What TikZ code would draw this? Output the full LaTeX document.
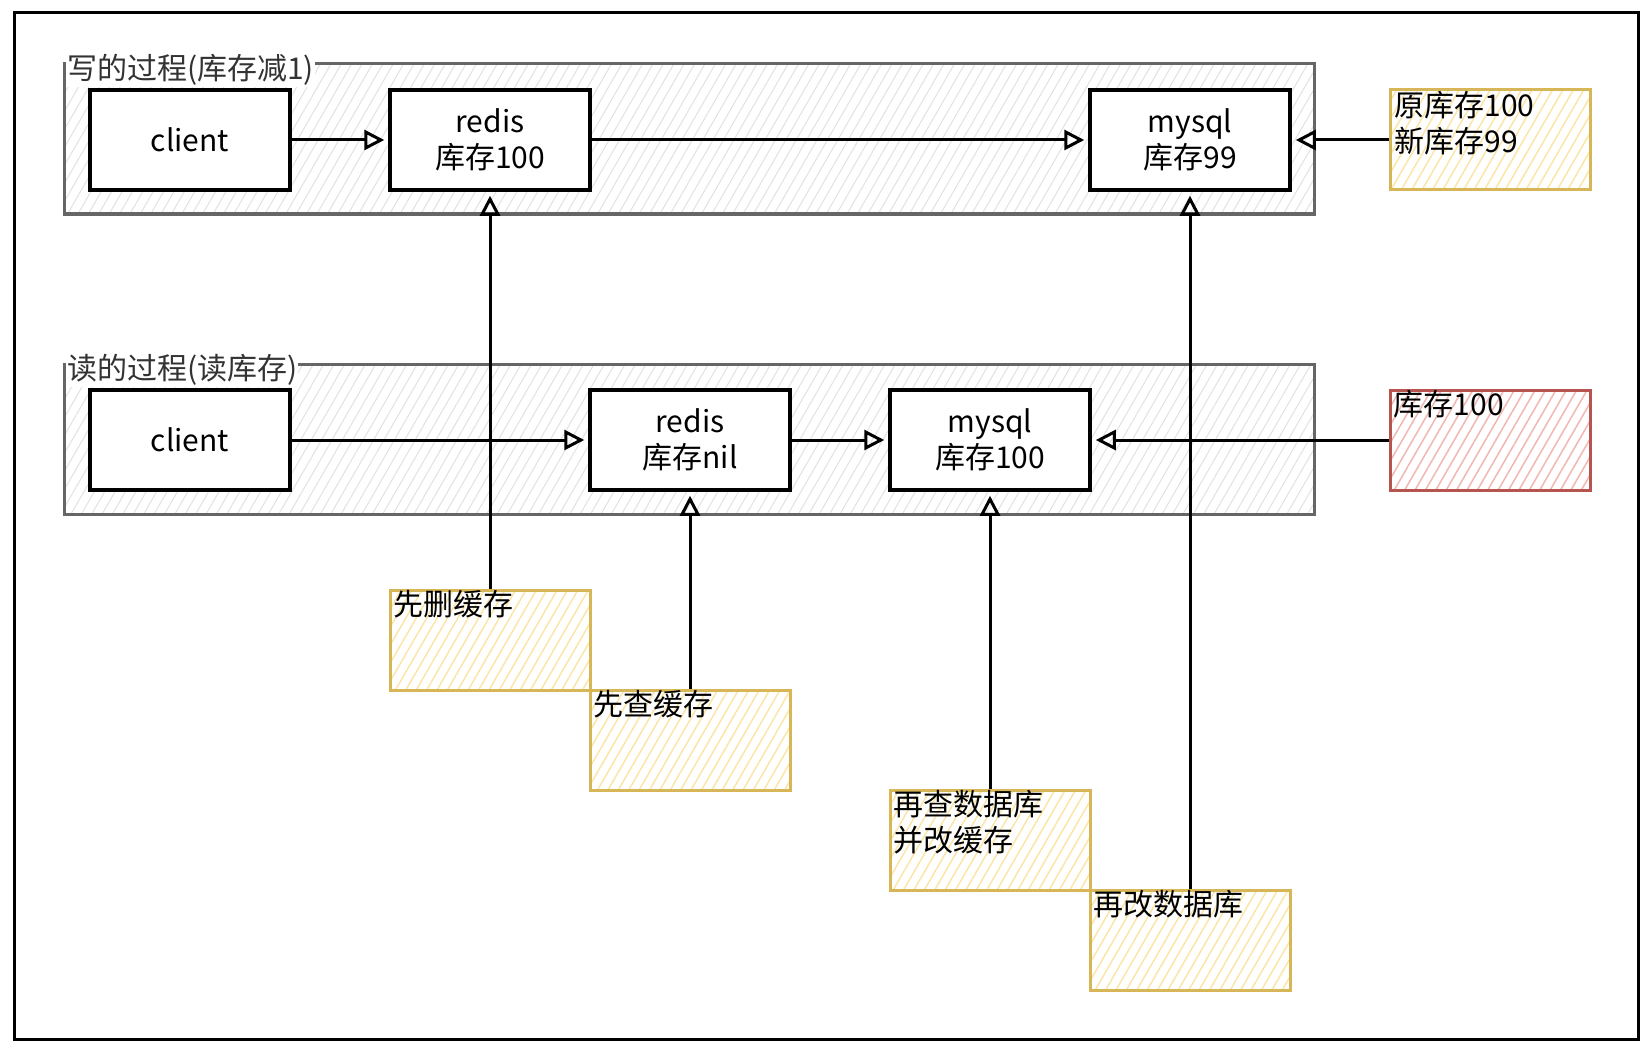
\documentclass[tikz,border=0pt]{standalone}
\usepackage{fontspec}
\setmainfont{Noto Sans CJK SC}
\usetikzlibrary{arrows.meta,patterns.meta}
\definecolor{grp}{HTML}{666666}
\definecolor{grphatch}{HTML}{E2E2E2}
\definecolor{ystroke}{HTML}{D6B656}
\definecolor{yhatch}{HTML}{FBE6A8}
\definecolor{rstroke}{HTML}{B85450}
\definecolor{rhatch}{HTML}{F2B6B3}
\definecolor{lbl}{HTML}{333333}
\begin{document}
\begin{tikzpicture}[x=1pt,y=-1pt,
  every node/.style={font=\fontsize{30}{36}\selectfont},
  box/.style={draw=black, line width=3.5pt, fill=white, minimum width=200pt,
    minimum height=100pt, inner sep=0pt, align=center},
  group/.style={draw=grp, line width=3pt,
    pattern={Lines[angle=60,distance=9pt,line width=1pt]}, pattern color=grphatch,
    minimum width=1250pt, minimum height=150pt, inner sep=0pt},
  grplabel/.style={anchor=west, fill=white, inner sep=1pt, text=lbl},
  notetext/.style={anchor=north west, inner sep=0pt, xshift=5pt, yshift=-2pt,
    align=left, text=black},
  ynote/.style={draw=ystroke, line width=3pt,
    pattern={Lines[angle=60,distance=9pt,line width=1.5pt]}, pattern color=yhatch,
    minimum width=200pt, minimum height=100pt, inner sep=0pt},
  rnote/.style={draw=rstroke, line width=3pt,
    pattern={Lines[angle=60,distance=9pt,line width=1.5pt]}, pattern color=rhatch,
    minimum width=200pt, minimum height=100pt, inner sep=0pt},
  arr/.style={-{Triangle[open,length=20pt,width=20pt,line width=3pt]},
    line width=3pt, shorten >=4pt, black}
]
\useasboundingbox (0,0) rectangle (1651,1051);
\fill[white] (0,0) rectangle (1651,1051);
\draw[line width=3pt, black] (14,13) rectangle (1638,1039);

% groups
\node[group] (gw) at (689,139) {};
\node[grplabel] (wl) at (66,70) {写的过程(库存减1)};
\node[group] (gr) at (689,439) {};
\node[grplabel] (rl) at (66,370) {读的过程(读库存)};

% write row
\node[box] (cw) at (190,140) {client};
\node[box] (rw) at (490,140) {redis\\库存100};
\node[box] (mw) at (1190,140) {mysql\\库存99};
\node[ynote, label={[notetext]north west:{原库存100\\新库存99}}] (nw) at (1490,140) {};

% read row
\node[box] (cr) at (190,440) {client};
\node[box] (rr) at (690,440) {redis\\库存nil};
\node[box] (mr) at (990,440) {mysql\\库存100};
\node[rnote, label={[notetext]north west:{库存100}}] (nr) at (1490,440) {};

% step notes
\node[ynote, label={[notetext]north west:{先删缓存}}] (del) at (490,640) {};
\node[ynote, label={[notetext]north west:{先查缓存}}] (chk) at (690,740) {};
\node[ynote, label={[notetext]north west:{再查数据库\\并改缓存}}] (rq) at (990,840) {};
\node[ynote, label={[notetext]north west:{再改数据库}}] (rdb) at (1190,940) {};

% arrows
\draw[arr] (cw.east) -- (rw.west);
\draw[arr] (rw.east) -- (mw.west);
\draw[arr] (nw.west) -- (mw.east);
\draw[arr] (cr.east) -- (rr.west);
\draw[arr] (rr.east) -- (mr.west);
\draw[arr] (nr.west) -- (mr.east);
\draw[arr] (del.north) -- (rw.south);
\draw[arr] (chk.north) -- (rr.south);
\draw[arr] (rq.north) -- (mr.south);
\draw[arr] (rdb.north) -- (mw.south);
\end{tikzpicture}
\end{document}
